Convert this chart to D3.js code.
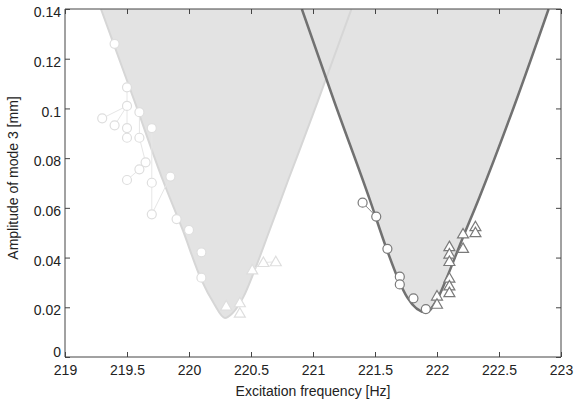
<!DOCTYPE html>
<html>
<head>
<meta charset="utf-8">
<script src="https://cdn.jsdelivr.net/npm/d3@7"></script>
<style>
  body { margin: 0; background: #fff; }
  svg text { font-family: "Liberation Sans", Arial, sans-serif; fill: #222; }
</style>
</head>
<body>
<svg id="chart" width="576" height="401"></svg>
<script>
// boundary curves (frequency, amplitude)
var leftCurve = [[219.29,0.14],[219.56,0.103],[219.79,0.071],[219.95,0.051],[220.10,0.031],[220.20,0.0216],
  [220.29,0.0157],[220.35,0.0176],[220.44,0.0243],[220.53,0.035],[220.65,0.051],[220.80,0.0712],
  [220.89,0.083],[221.04,0.103],[221.31,0.14]];
var rightCurve = [[220.91,0.14],[221.17,0.103],[221.46,0.063],[221.59,0.044],[221.69,0.031],[221.76,0.024],
  [221.91,0.018],[222.01,0.024],[222.08,0.032],[222.20,0.047],[222.34,0.064],[222.63,0.102],
  [222.90,0.14]];

// measured points
var leftCircles = [[219.40,0.126],[219.50,0.1085],[219.50,0.101],[219.60,0.0985],[219.30,0.096],[219.40,0.0932],
  [219.50,0.0921],[219.70,0.0921],[219.50,0.0882],[219.60,0.0882],[219.65,0.0783],[219.60,0.0755],
  [219.85,0.0726],[219.50,0.0712],[219.70,0.0701],[219.70,0.0574],[219.90,0.0555],[220.00,0.0511],
  [220.10,0.0421],[220.10,0.0319]];
var leftLinks = [
  [[219.50,0.1085],[219.50,0.101],[219.30,0.096]],
  [[219.50,0.101],[219.40,0.0932]],
  [[219.50,0.101],[219.50,0.0921],[219.50,0.0882]],
  [[219.60,0.0985],[219.60,0.0882],[219.65,0.0783],[219.60,0.0755],[219.50,0.0712]],
  [[219.70,0.0921],[219.70,0.0701],[219.70,0.0574],[219.85,0.0726]]
];
var leftTriangles = [[220.30,0.0205],[220.41,0.0218],[220.41,0.0176],[220.51,0.035],[220.60,0.038],[220.70,0.0383]];
var leftTriLinks = [[[220.51,0.035],[220.60,0.038],[220.70,0.0383]]];

var rightCircles = [[221.40,0.0621],[221.51,0.0565],[221.60,0.0435],[221.70,0.0323],[221.70,0.0292],
  [221.81,0.0236],[221.91,0.0193]];
var rightLinks = [[[221.40,0.0621],[221.51,0.0565]]];
var rightTriangles = [[222.00,0.0245],[222.00,0.0212],[222.10,0.0444],[222.10,0.0414],[222.10,0.0384],
  [222.10,0.0317],[222.10,0.0286],[222.10,0.0259],[222.21,0.0495],[222.21,0.0437],[222.31,0.0524],
  [222.31,0.0500]];

var xTicks = [219,219.5,220,220.5,221,221.5,222,222.5,223];
var yTicks = [0,0.02,0.04,0.06,0.08,0.1,0.12,0.14];

var svg = d3.select("#chart");
var margin = {left: 65, right: 15, top: 9, bottom: 44};
var W = 576, H = 401;

var x = d3.scaleLinear().domain([219, 223]).range([margin.left, W - margin.right]);
var y = d3.scaleLinear().domain([0, 0.14]).range([H - margin.bottom, margin.top]);

svg.append("clipPath").attr("id", "clip")
  .append("rect").attr("x", x(219)).attr("y", y(0.14)).attr("width", x(223) - x(219)).attr("height", y(0) - y(0.14));

var plot = svg.append("g").attr("clip-path", "url(#clip)");

var area = d3.area().x(function(d) { return x(d[0]); })
  .y0(y(0.14)).y1(function(d) { return y(d[1]); })
  .curve(d3.curveMonotoneX);
var line = d3.line().x(function(d) { return x(d[0]); }).y(function(d) { return y(d[1]); })
  .curve(d3.curveMonotoneX);
var seg = d3.line().x(function(d) { return x(d[0]); }).y(function(d) { return y(d[1]); });

plot.append("path").datum(leftCurve).attr("d", area).attr("fill", "#e3e3e3");
plot.append("path").datum(rightCurve).attr("d", area).attr("fill", "#e3e3e3");
plot.append("path").datum(leftCurve).attr("d", line).attr("fill", "none").attr("stroke", "#d6d6d6").attr("stroke-width", 2);
plot.append("path").datum(rightCurve).attr("d", line).attr("fill", "none").attr("stroke", "#717171").attr("stroke-width", 2.5);

function links(data, color) {
  plot.selectAll(null).data(data).enter().append("path")
    .attr("d", seg).attr("fill", "none").attr("stroke", color).attr("stroke-width", 1);
}
function circles(data, color) {
  plot.selectAll(null).data(data).enter().append("circle")
    .attr("cx", function(d) { return x(d[0]); })
    .attr("cy", function(d) { return y(d[1]); })
    .attr("r", 4.5).attr("fill", "#fff").attr("stroke", color).attr("stroke-width", 1.2);
}
var tri = d3.symbol().type(d3.symbolTriangle).size(52);
function triangles(data, color) {
  plot.selectAll(null).data(data).enter().append("path")
    .attr("d", tri)
    .attr("transform", function(d) { return "translate(" + x(d[0]) + "," + (y(d[1]) + 0.8) + ")"; })
    .attr("fill", "#fff").attr("stroke", color).attr("stroke-width", 1.2);
}

links(leftLinks, "#e6e6e6");
links(leftTriLinks, "#e6e6e6");
circles(leftCircles, "#dedede");
triangles(leftTriangles, "#dedede");
links(rightLinks, "#8a8a8a");
circles(rightCircles, "#7a7a7a");
triangles(rightTriangles, "#7a7a7a");

// axes box
var axisColor = "#444";
var xAxis = svg.append("g").attr("transform", "translate(0," + y(0) + ")")
  .call(d3.axisBottom(x).tickValues(xTicks).tickSize(-5).tickPadding(10).tickFormat(d3.format("")));
var xTop = svg.append("g").attr("transform", "translate(0," + y(0.14) + ")")
  .call(d3.axisTop(x).tickValues(xTicks).tickSize(-5).tickFormat(""));
var yAxis = svg.append("g").attr("transform", "translate(" + x(219) + ",0)")
  .call(d3.axisLeft(y).tickValues(yTicks).tickSize(-5).tickPadding(4).tickFormat(d3.format("")));
var yRight = svg.append("g").attr("transform", "translate(" + x(223) + ",0)")
  .call(d3.axisRight(y).tickValues(yTicks).tickSize(-5).tickFormat(""));

[xAxis, xTop, yAxis, yRight].forEach(function(g) {
  g.selectAll(".domain").attr("stroke", axisColor).attr("stroke-width", 1);
  g.selectAll(".tick line").attr("stroke", axisColor);
  g.selectAll(".tick text").style("font-size", "14px").attr("fill", "#222");
});
xAxis.select(".domain").attr("d", "M" + x(219) + ",0H" + x(223));
yAxis.select(".domain").attr("d", "M0," + y(0) + "V" + y(0.14));
xTop.select(".domain").attr("d", "M" + x(219) + ",0H" + x(223));
yRight.select(".domain").attr("d", "M0," + y(0) + "V" + y(0.14));
yAxis.selectAll(".tick text").attr("dy", "0.55em");
yAxis.selectAll(".tick").filter(function(d) { return d === 0; }).select("text").attr("dy", "-0.05em");
xAxis.selectAll(".tick text").attr("dy", "0.6em");

svg.append("text")
  .attr("x", (x(219) + x(223)) / 2).attr("y", 396)
  .attr("text-anchor", "middle").style("font-size", "14px")
  .text("Excitation frequency [Hz]");

svg.append("text")
  .attr("transform", "translate(18," + 178 + ") rotate(-90)")
  .attr("text-anchor", "middle").style("font-size", "14px")
  .text("Amplitude of mode 3 [mm]");
</script>
</body>
</html>
